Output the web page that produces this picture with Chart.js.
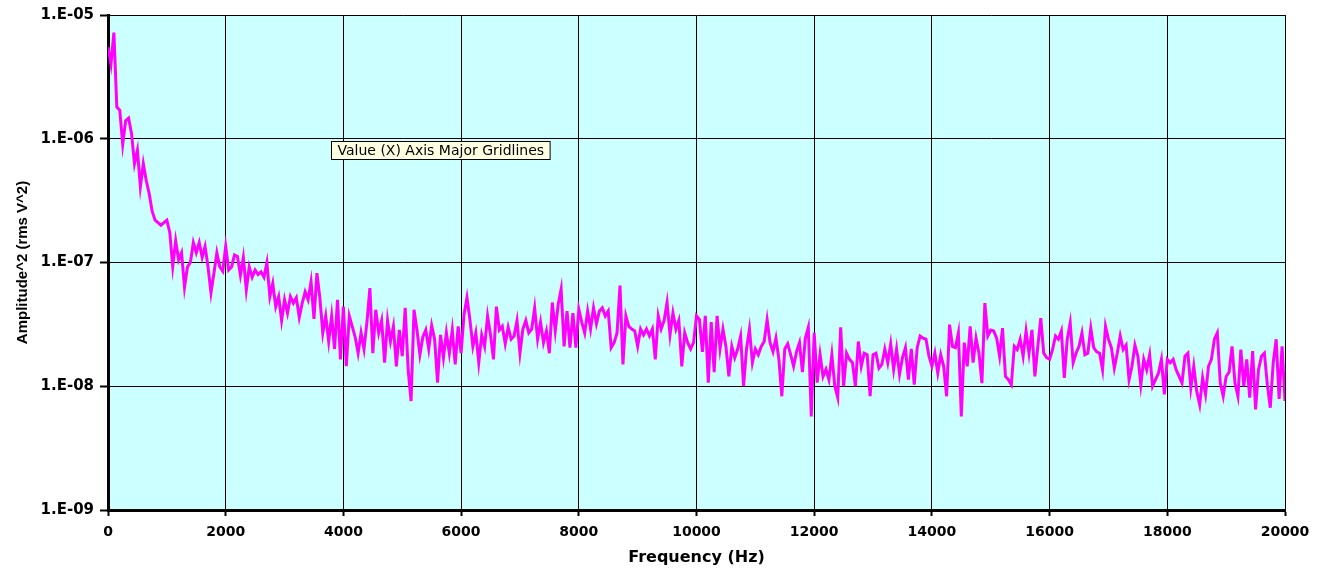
<html>
<head>
    <script src="https://cdn.jsdelivr.net/npm/chart.js"></script>
    <style>
        body { margin: 0; background: #fff; }
    </style>
</head>
<body>
    <canvas id="myChart" width="1328" height="569"></canvas>
    <script>
        // spectrum samples, one every 50 Hz from 0 to 20000 Hz (rms V^2)
        const FREQ_STEP = 50;
        const amplitude = [
            5.5e-6, 4.0e-6, 7.2e-6, 1.8e-6, 1.7e-6, 9.0e-7, 1.4e-6, 1.47e-6, 1.1e-6, 6.3e-7,
            8.1e-7, 4.1e-7, 6.3e-7, 4.6e-7, 3.6e-7, 2.6e-7, 2.2e-7, 2.1e-7, 2.0e-7, 2.1e-7,
            2.2e-7, 1.75e-7, 9.3e-8, 1.5e-7, 1.05e-7, 1.2e-7, 6.3e-8, 9.2e-8, 1.0e-7, 1.45e-7,
            1.2e-7, 1.45e-7, 1.1e-7, 1.35e-7, 9.2e-8, 5.7e-8, 8.2e-8, 1.2e-7, 9.2e-8, 8.5e-8,
            1.35e-7, 8.7e-8, 9.2e-8, 1.15e-7, 1.12e-7, 7.9e-8, 1.1e-7, 6.0e-8, 9.2e-8, 7.6e-8,
            8.7e-8, 8.0e-8, 8.4e-8, 7.6e-8, 1.0e-7, 5.3e-8, 6.8e-8, 4.4e-8, 5.3e-8, 3.4e-8,
            5.0e-8, 3.9e-8, 5.3e-8, 4.7e-8, 5.2e-8, 3.6e-8, 4.7e-8, 5.8e-8, 5.0e-8, 7.0e-8,
            3.5e-8, 8.2e-8, 5.2e-8, 2.7e-8, 3.7e-8, 2.3e-8, 3.7e-8, 2.0e-8, 5.0e-8, 1.65e-8,
            4.4e-8, 1.45e-8, 3.7e-8, 3.05e-8, 2.5e-8, 1.85e-8, 2.7e-8, 2.0e-8, 3.3e-8, 6.2e-8,
            1.85e-8, 4.15e-8, 2.7e-8, 3.4e-8, 1.55e-8, 3.4e-8, 2.3e-8, 3.05e-8, 1.45e-8, 2.85e-8,
            1.75e-8, 4.3e-8, 1.37e-8, 7.6e-9, 4.15e-8, 2.85e-8, 1.8e-8, 2.5e-8, 2.85e-8, 2.0e-8,
            3.1e-8, 2.4e-8, 1.07e-8, 2.6e-8, 1.7e-8, 2.7e-8, 1.85e-8, 2.85e-8, 1.5e-8, 3.05e-8,
            1.85e-8, 3.8e-8, 5.2e-8, 3.45e-8, 2.1e-8, 2.7e-8, 1.55e-8, 2.6e-8, 2.1e-8, 3.7e-8,
            2.6e-8, 1.65e-8, 4.4e-8, 2.85e-8, 3.05e-8, 2.2e-8, 3.0e-8, 2.4e-8, 2.55e-8, 3.4e-8,
            1.85e-8, 2.9e-8, 3.4e-8, 2.7e-8, 2.9e-8, 4.3e-8, 2.4e-8, 3.3e-8, 2.25e-8, 2.8e-8,
            1.85e-8, 4.75e-8, 2.8e-8, 4.6e-8, 6.1e-8, 2.1e-8, 4.05e-8, 2.05e-8, 3.9e-8, 2.05e-8,
            4.2e-8, 3.3e-8, 2.7e-8, 4.05e-8, 2.9e-8, 4.3e-8, 3.2e-8, 4.05e-8, 4.3e-8, 3.7e-8,
            4.05e-8, 2.05e-8, 2.25e-8, 2.7e-8, 6.5e-8, 1.5e-8, 3.7e-8, 3.05e-8, 2.9e-8, 2.8e-8,
            2.1e-8, 2.9e-8, 2.6e-8, 2.9e-8, 2.55e-8, 2.9e-8, 1.65e-8, 3.7e-8, 2.9e-8, 3.4e-8,
            4.75e-8, 2.6e-8, 3.9e-8, 2.9e-8, 3.4e-8, 1.45e-8, 2.7e-8, 2.25e-8, 2.0e-8, 2.25e-8,
            3.7e-8, 3.45e-8, 1.9e-8, 3.7e-8, 1.07e-8, 3.3e-8, 1.3e-8, 3.7e-8, 2.0e-8, 2.9e-8,
            2.1e-8, 1.2e-8, 2.1e-8, 1.7e-8, 2.0e-8, 2.55e-8, 1.0e-8, 2.0e-8, 2.9e-8, 1.55e-8,
            2.0e-8, 1.8e-8, 2.1e-8, 2.3e-8, 3.45e-8, 2.25e-8, 1.9e-8, 2.45e-8, 1.65e-8, 8.3e-9,
            2.0e-8, 2.2e-8, 1.8e-8, 1.45e-8, 1.9e-8, 2.25e-8, 1.3e-8, 2.45e-8, 3.0e-8, 5.7e-9,
            2.7e-8, 1.07e-8, 1.8e-8, 1.2e-8, 1.37e-8, 1.13e-8, 1.8e-8, 1.0e-8, 8.1e-9, 3.0e-8,
            1.0e-8, 1.85e-8, 1.65e-8, 1.55e-8, 1.0e-8, 2.3e-8, 1.45e-8, 1.85e-8, 1.8e-8, 8.3e-9,
            1.8e-8, 1.85e-8, 1.4e-8, 1.5e-8, 2.0e-8, 1.55e-8, 2.2e-8, 1.37e-8, 2.0e-8, 1.25e-8,
            1.7e-8, 2.05e-8, 1.13e-8, 2.0e-8, 1.03e-8, 2.05e-8, 2.55e-8, 2.45e-8, 2.4e-8, 1.75e-8,
            1.45e-8, 1.85e-8, 1.28e-8, 1.8e-8, 1.45e-8, 8.3e-9, 3.15e-8, 2.1e-8, 2.05e-8, 2.7e-8,
            5.7e-9, 2.25e-8, 1.45e-8, 3.05e-8, 1.55e-8, 2.45e-8, 1.85e-8, 1.06e-8, 4.7e-8, 2.55e-8,
            2.85e-8, 2.8e-8, 2.45e-8, 1.75e-8, 2.95e-8, 1.2e-8, 1.13e-8, 1.03e-8, 2.1e-8, 1.98e-8,
            2.4e-8, 1.75e-8, 2.8e-8, 1.85e-8, 2.85e-8, 1.2e-8, 2.1e-8, 3.55e-8, 1.85e-8, 1.7e-8,
            1.65e-8, 1.98e-8, 2.55e-8, 2.4e-8, 2.8e-8, 1.17e-8, 2.4e-8, 3.25e-8, 1.55e-8, 1.85e-8,
            2.1e-8, 2.7e-8, 1.8e-8, 1.85e-8, 2.95e-8, 2.05e-8, 1.9e-8, 1.85e-8, 1.36e-8, 3.05e-8,
            2.4e-8, 2.05e-8, 1.4e-8, 1.85e-8, 2.55e-8, 1.98e-8, 2.15e-8, 1.13e-8, 1.45e-8, 2.15e-8,
            1.75e-8, 1.03e-8, 1.65e-8, 1.36e-8, 1.8e-8, 1.0e-8, 1.13e-8, 1.28e-8, 1.65e-8, 8.6e-9,
            1.65e-8, 1.55e-8, 1.65e-8, 1.36e-8, 1.2e-8, 1.06e-8, 1.75e-8, 1.85e-8, 9.7e-9, 1.45e-8,
            9.1e-9, 7.1e-9, 1.17e-8, 8.6e-9, 1.45e-8, 1.65e-8, 2.4e-8, 2.7e-8, 1.06e-8, 8.3e-9,
            1.2e-8, 1.3e-8, 2.1e-8, 1.06e-8, 8.3e-9, 1.98e-8, 1.0e-8, 1.65e-8, 8.1e-9, 1.92e-8,
            6.5e-9, 1.36e-8, 1.75e-8, 1.85e-8, 1.03e-8, 6.7e-9, 1.55e-8, 2.4e-8, 7.9e-9, 2.1e-8,
            7.6e-9
        ];

        const yTickValues = [1e-9, 1e-8, 1e-7, 1e-6, 1e-5];
        const yTickLabels = ['1.E-09', '1.E-08', '1.E-07', '1.E-06', '1.E-05'];
        const xTickLabels = ['0', '2000', '4000', '6000', '8000', '10000', '12000', '14000', '16000', '18000', '20000'];

        const points = amplitude.map((v, i) => ({x: i * FREQ_STEP, y: v}));

        // cyan plot area like the Excel chart
        const plotBackground = {
            id: 'plotBackground',
            beforeDraw(chart) {
                const {ctx, chartArea: a} = chart;
                ctx.save();
                ctx.fillStyle = '#CCFFFF';
                ctx.fillRect(a.left, a.top, a.right - a.left, a.bottom - a.top);
                ctx.restore();
            }
        };

        // the hover hint that was on screen when the chart was captured
        const hoverHint = {
            id: 'hoverHint',
            afterDraw(chart) {
                const ctx = chart.ctx;
                const text = 'Value (X) Axis Major Gridlines';
                ctx.save();
                ctx.font = '14px "DejaVu Sans"';
                const w = ctx.measureText(text).width + 12;
                const x = 331.5, y = 141.5;
                ctx.fillStyle = '#FFFFE1';
                ctx.fillRect(x, y, w, 18);
                ctx.strokeStyle = '#000';
                ctx.lineWidth = 1;
                ctx.strokeRect(x, y, w, 18);
                ctx.fillStyle = '#000';
                ctx.textBaseline = 'middle';
                ctx.fillText(text, x + 6, y + 9.5);
                ctx.restore();
            }
        };

        const tickFont = {family: '"DejaVu Sans", sans-serif', weight: 'bold', size: 14};

        const ctx = document.getElementById('myChart');
        const myChart = new Chart(ctx, {
            type: 'line',
            data: {
                datasets: [{
                    label: 'Amplitude^2',
                    data: points,
                    borderColor: '#FF00FF',
                    borderWidth: 3,
                    pointRadius: 0,
                    tension: 0,
                    fill: false
                }]
            },
            options: {
                responsive: false,
                animation: false,
                devicePixelRatio: 1,
                layout: {padding: {top: 15, right: 43, left: 0, bottom: 0}},
                plugins: {
                    legend: {display: false},
                    tooltip: {enabled: false}
                },
                scales: {
                    x: {
                        type: 'linear',
                        min: 0,
                        max: 20000,
                        afterFit: (scale) => { scale.height = 59; },
                        ticks: {
                            stepSize: 2000,
                            color: '#000',
                            font: tickFont,
                            padding: 8,
                            maxRotation: 0,
                            callback: (v, i) => xTickLabels[i]
                        },
                        grid: {color: '#000', lineWidth: 1, tickLength: 6, tickWidth: 2, tickColor: '#000'},
                        border: {display: true, color: '#000', width: 3},
                        title: {
                            display: true,
                            text: 'Frequency (Hz)',
                            color: '#000',
                            font: {family: '"DejaVu Sans", sans-serif', weight: 'bold', size: 16},
                            padding: {top: 0, bottom: 2}
                        }
                    },
                    y: {
                        type: 'logarithmic',
                        min: 1e-9,
                        max: 1e-5,
                        afterFit: (scale) => { scale.width = 108; },
                        afterBuildTicks: (scale) => {
                            scale.ticks = yTickValues.map(v => ({value: v}));
                        },
                        ticks: {
                            color: '#000',
                            font: {family: '"DejaVu Sans", sans-serif', weight: 'bold', size: 15},
                            padding: 6,
                            callback: (v) => yTickLabels[yTickValues.indexOf(v)]
                        },
                        grid: {color: '#000', lineWidth: 1, tickLength: 8, tickWidth: 2, tickColor: '#000'},
                        border: {display: true, color: '#000', width: 3},
                        title: {
                            display: true,
                            text: 'Amplitude^2 (rms V^2)',
                            color: '#000',
                            font: {family: '"Liberation Sans", Arial, sans-serif', weight: 'bold', size: 15},
                            padding: {top: 14, bottom: 0}
                        }
                    }
                }
            },
            plugins: [plotBackground, hoverHint]
        });
    </script>
</body>
</html>
